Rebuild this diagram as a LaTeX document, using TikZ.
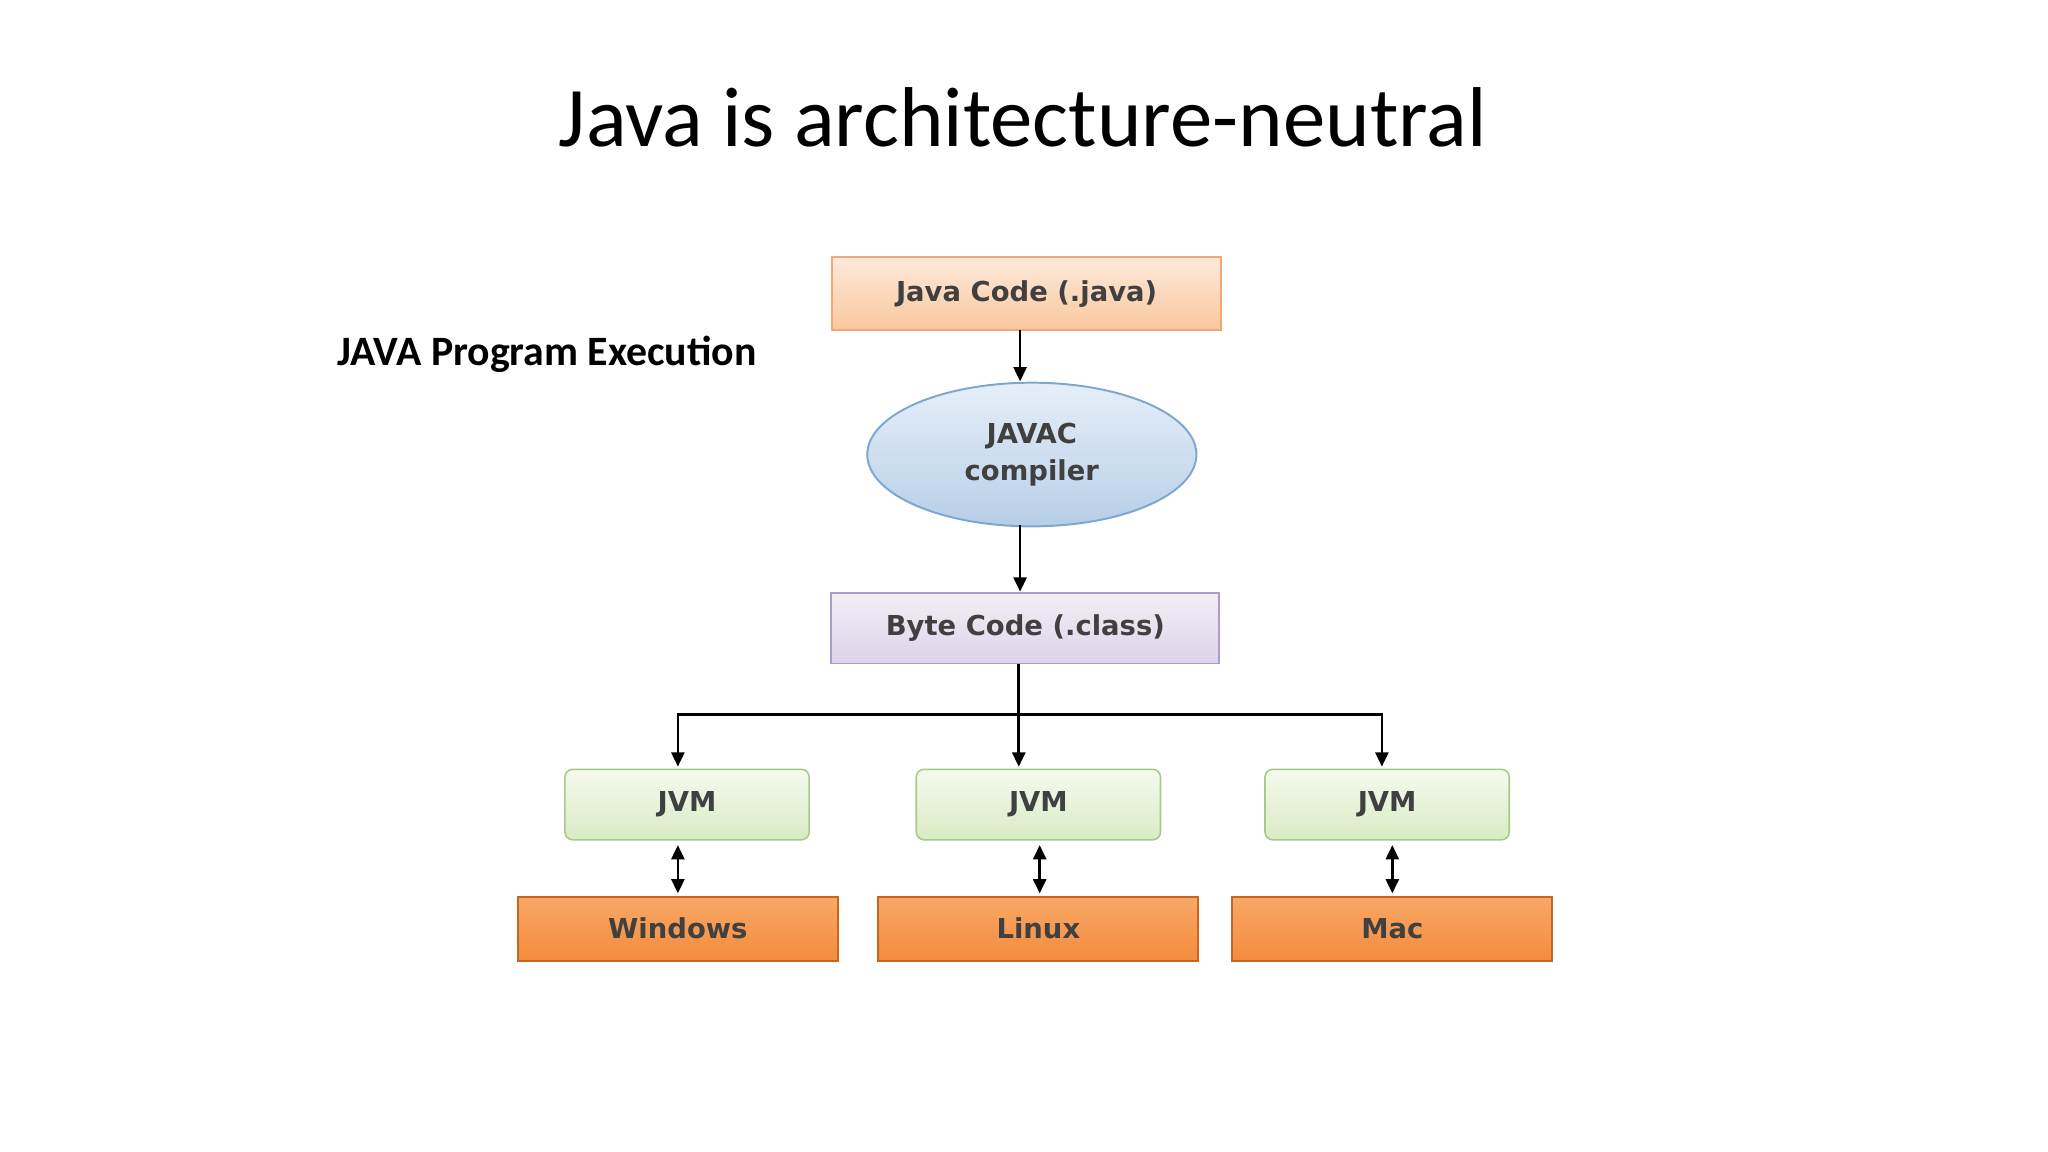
\documentclass[tikz,border=0pt]{standalone}
\usepackage{fontspec}
\setmainfont{Carlito}
\newfontfamily\boxfont{DejaVu Sans}
\usetikzlibrary{shapes.geometric,arrows.meta}
\definecolor{peachA}{HTML}{FDEADA}
\definecolor{peachB}{HTML}{FAC79E}
\definecolor{peachD}{HTML}{F0A878}
\definecolor{blueA}{HTML}{E6EFF8}
\definecolor{blueB}{HTML}{B7CEE8}
\definecolor{blueD}{HTML}{7FA6CE}
\definecolor{lavA}{HTML}{F2EFF7}
\definecolor{lavB}{HTML}{DCD3E8}
\definecolor{lavD}{HTML}{AE9CC8}
\definecolor{grnA}{HTML}{F5FAEE}
\definecolor{grnB}{HTML}{D9EBC4}
\definecolor{grnD}{HTML}{A8C98A}
\definecolor{orgA}{HTML}{F9A868}
\definecolor{orgB}{HTML}{F38B3C}
\definecolor{orgD}{HTML}{C9661E}
\definecolor{txt}{HTML}{404040}
\tikzset{
  x=1pt,y=-1pt,
  lbl/.style={font=\boxfont\bfseries\fontsize{21}{26}\selectfont,text=txt},
  codebox/.style={lbl,draw=peachD,line width=1.5pt,top color=peachA,bottom color=peachB,minimum width=298,minimum height=56},
  bytebox/.style={lbl,draw=lavD,line width=1.5pt,top color=lavA,bottom color=lavB,minimum width=297,minimum height=54},
  jvmbox/.style={lbl,draw=grnD,line width=1.2pt,rounded corners=6,top color=grnA,bottom color=grnB,minimum width=187,minimum height=54},
  osbox/.style={lbl,draw=orgD,line width=1.5pt,top color=orgA,bottom color=orgB,minimum width=245,minimum height=49},
  arr/.style={-{Triangle[length=11,width=10]},line width=2pt},
  darr/.style={{Triangle[length=11,width=10]}-{Triangle[length=11,width=10]},line width=2pt}
}
\begin{document}
\begin{tikzpicture}
\useasboundingbox (0,0) rectangle (1568,882);
\node (title) at (783,90) {\fontsize{65}{72}\selectfont Java is architecture-neutral};
\node[anchor=west] (sub) at (255,271) {\fontsize{32}{36}\selectfont\bfseries JAVA Program Execution};
\node[codebox] (jc) at (786,225) {Java Code (.java)};
\node[ellipse,lbl,draw=blueD,line width=1.5pt,top color=blueA,bottom color=blueB,minimum width=252,minimum height=110,align=center] (jv) at (790,348) {JAVAC\\[2pt]compiler};
\node[bytebox] (bc) at (785,481) {Byte Code (.class)};
\node[jvmbox] (j1) at (526,616) {JVM};
\node[jvmbox] (j2) at (795,616) {JVM};
\node[jvmbox] (j3) at (1062,616) {JVM};
\node[osbox] (o1) at (519,711) {Windows};
\node[osbox] (o2) at (795,711) {Linux};
\node[osbox] (o3) at (1066,711) {Mac};
\coordinate (s) at (780,547);
\draw[arr] (781,253) -- (781,292);
\draw[arr] (781,402) -- (781,453);
\draw[line width=2pt] (bc.south -| s) -- (s);
\draw[arr] (s) -- (780,587);
\draw[arr] (s) -- (519,547) -- (519,587);
\draw[arr] (s) -- (1058,547) -- (1058,587);
\draw[darr] (519,647) -- (519,684);
\draw[darr] (796,647) -- (796,684);
\draw[darr] (1066,647) -- (1066,684);
\end{tikzpicture}
\end{document}
